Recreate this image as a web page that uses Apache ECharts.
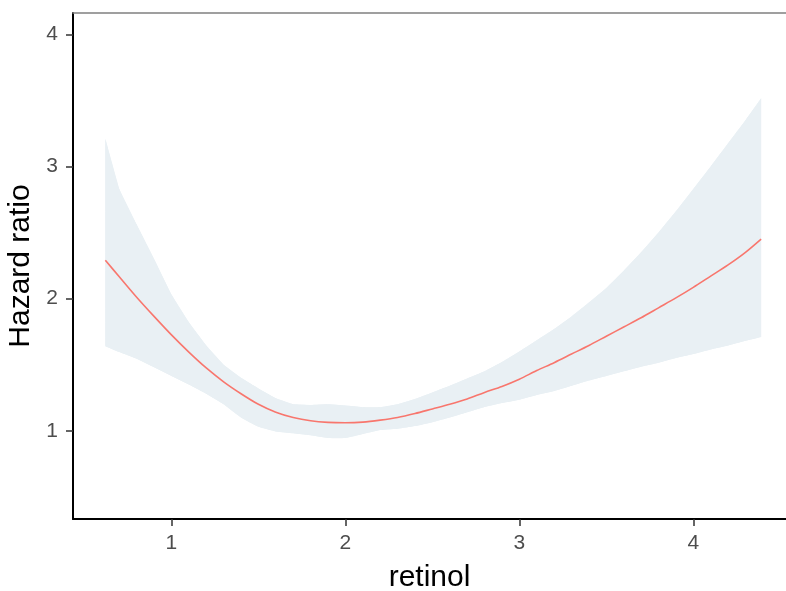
<!DOCTYPE html>
<html>
<head>
<meta charset="utf-8">
<script src="https://cdn.jsdelivr.net/npm/echarts@6/dist/echarts.min.js"></script>
<style>html,body{margin:0;padding:0;background:#fff}#c{width:786px;height:591px}</style>
</head>
<body>
<div id="c"></div>
<script>
var retinol = [0.62,0.7,0.8,0.9,1.0,1.1,1.2,1.3,1.4,1.5,1.6,1.7,1.8,1.9,2.0,2.1,2.2,2.3,2.4,2.5,2.6,2.7,2.8,2.9,3.0,3.1,3.2,3.3,3.4,3.5,3.6,3.7,3.8,3.9,4.0,4.1,4.2,4.3,4.39];
var hazardRatio = [2.29,2.165,2.01,1.865,1.725,1.595,1.475,1.37,1.28,1.20,1.14,1.10,1.075,1.063,1.06,1.065,1.08,1.10,1.13,1.165,1.20,1.24,1.29,1.335,1.39,1.455,1.515,1.58,1.645,1.715,1.785,1.855,1.93,2.005,2.085,2.17,2.255,2.35,2.45];
var upperCI = [3.21,2.83,2.56,2.30,2.03,1.82,1.645,1.50,1.40,1.32,1.245,1.20,1.195,1.20,1.19,1.178,1.177,1.20,1.24,1.29,1.34,1.395,1.45,1.52,1.60,1.685,1.77,1.865,1.97,2.08,2.21,2.35,2.50,2.66,2.83,3.00,3.175,3.35,3.515];
var lowerCI = [1.64,1.595,1.545,1.48,1.415,1.35,1.28,1.20,1.10,1.03,0.995,0.98,0.965,0.945,0.945,0.975,1.005,1.015,1.035,1.065,1.10,1.14,1.18,1.21,1.235,1.27,1.30,1.34,1.38,1.415,1.45,1.485,1.515,1.55,1.58,1.615,1.645,1.68,1.71];
var xTicks = [1,2,3,4];
var yTicks = [1,2,3,4];

var bandData = retinol.map(function(x,i){return [x, lowerCI[i], upperCI[i]];});
var lineData = retinol.map(function(x,i){return [x, hazardRatio[i]];});

var chart = echarts.init(document.getElementById('c'), null, {renderer:'canvas'});
var FF = 'Liberation Sans, Arial, sans-serif';
var tickFont = {color:'#4D4D4D', fontSize:21, fontFamily:FF};
chart.setOption({
  animation:false,
  grid:{left:73, right:0, top:13, bottom:72, containLabel:false, outerBoundsMode:'none'},
  xAxis:[{
    type:'value', min:0.434, max:4.533,
    name:'retinol', nameLocation:'middle', nameGap:44,
    nameTextStyle:{color:'#000', fontSize:30, fontFamily:FF},
    axisLine:{show:true, onZero:false, lineStyle:{color:'#000', width:2}},
    axisTick:{show:true, length:7, lineStyle:{color:'#333', width:1.5}, customValues: xTicks},
    axisLabel:Object.assign({margin:14, customValues: xTicks}, tickFont),
    splitLine:{show:false}
  },{
    type:'value', position:'top', min:0.434, max:4.533,
    axisLine:{show:true, onZero:false, lineStyle:{color:'#808080', width:1.5}},
    axisTick:{show:false}, axisLabel:{show:false}, splitLine:{show:false}
  }],
  yAxis:{
    type:'value', min:0.332, max:4.161,
    name:'Hazard ratio', nameLocation:'middle', nameGap:36, nameRotate:90,
    nameTextStyle:{color:'#000', fontSize:30, fontFamily:FF},
    axisLine:{show:true, onZero:false, lineStyle:{color:'#000', width:2}},
    axisTick:{show:true, length:7, lineStyle:{color:'#333', width:1.5}, customValues: yTicks},
    axisLabel:Object.assign({margin:15, customValues: yTicks}, tickFont),
    splitLine:{show:false}
  },
  series:[
    {type:'custom', data:bandData, silent:true, clip:true,
     encode:{x:0, y:[1,2]},
     renderItem:function(params, api){
       if (params.dataIndex !== 0) return null;
       var n = bandData.length;
       var up = [], lo = [];
       for (var i = 0; i < n; i++) {
         up.push(api.coord([bandData[i][0], bandData[i][2]]));
         lo.push(api.coord([bandData[i][0], bandData[i][1]]));
       }
       lo.reverse();
       return {type:'group', children:[
         {type:'polygon', shape:{points:[up[0]].concat(up, [up[n-1]], [lo[0]], lo, [lo[n-1]]), smooth:0.2}, style:{fill:'#E9F0F4'}},
         {type:'polygon', shape:{points:up.concat(lo)}, style:{fill:'#E9F0F4'}}
       ]};
     }},
    {type:'line', data:lineData, symbol:'none', showSymbol:false, smooth:0.3,
     lineStyle:{color:'#F8766D', width:1.6}}
  ]
});
</script>
</body>
</html>
